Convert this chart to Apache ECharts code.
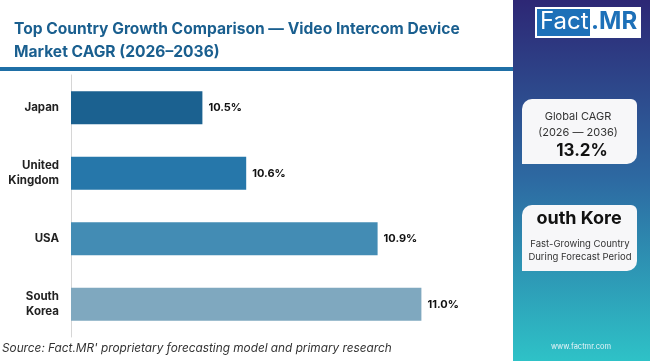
<!DOCTYPE html>
<html><head><meta charset="utf-8">
<script src="https://cdn.jsdelivr.net/npm/echarts@6/dist/echarts.min.js"></script>
<style>html,body{margin:0;padding:0;background:#fff}#c{width:650px;height:361px}</style>
</head><body><div id="c"></div>
<script>
const categories = ['Japan', 'United\nKingdom', 'USA', 'South\nKorea'];
const cagrValues = [10.5, 10.6, 10.9, 11.0];
const barColors = ['#1b6190', '#2677aa', '#438cb4', '#7fa8bf'];
const titleLines = 'Top Country Growth Comparison — Video Intercom Device\nMarket CAGR (2026–2036)';
const sourceText = "Source: Fact.MR' proprietary forecasting model and primary research";
const globalCagr = '13.2%';
const fastestCountry = 'outh Kore';

const chart = echarts.init(document.getElementById('c'));
const F = 'Inter, "Open Sans", sans-serif';
chart.setOption({
  animation: false,
  title: {
    text: titleLines, left: 9, top: 13,
    textStyle: { fontFamily: F, fontSize: 15.6, fontWeight: 700, color: '#1a5f8f', lineHeight: 23 }
  },
  grid: { left: 71, right: 141, top: 75, bottom: 24 },
  xAxis: { type: 'value', min: 10.2, max: 11.2, show: false },
  yAxis: {
    type: 'category', data: categories, inverse: true,
    axisLine: { lineStyle: { color: '#d6d6d6' } },
    axisTick: { length: 4, lineStyle: { color: '#d6d6d6' } },
    axisLabel: { margin: 12, fontFamily: F, fontSize: 11.5, fontWeight: 700, color: '#222', lineHeight: 15 }
  },
  series: [{
    type: 'bar', barWidth: 33,
    data: cagrValues.map((v, i) => ({ value: v, itemStyle: { color: barColors[i] } })),
    label: { show: true, position: 'right', distance: 6, fontFamily: F, fontSize: 11, fontWeight: 700, color: '#111',
      formatter: p => p.value.toFixed(1) + '%' }
  }],
  graphic: [
    { type: 'rect', left: 0, top: 67, shape: { width: 513, height: 4 }, style: { fill: '#1f6fa6' } },
    { type: 'text', left: 2, top: 342, style: { text: sourceText, font: 'italic 11.8px ' + F, fill: '#333' } },
    { type: 'rect', left: 513, top: 0, shape: { width: 137, height: 361 },
      style: { fill: new echarts.graphic.LinearGradient(0, 0, 0, 1, [
        { offset: 0, color: '#2d2775' }, { offset: 0.5, color: '#2d6aa2' }, { offset: 1, color: '#2ec2c7' }]) } },
    { type: 'rect', left: 535, top: 7, shape: { width: 106, height: 31 }, style: { fill: '#fff' } },
    { type: 'rect', left: 537, top: 9, shape: { width: 53, height: 27 }, style: { fill: '#1d70b8' } },
    { type: 'text', left: 540, top: 10, style: { text: 'Fact', font: '400 24px ' + F, fill: '#fff' } },
    { type: 'text', left: 591, top: 10, style: { text: '.MR', font: '700 24px ' + F, fill: '#1d70b8' } },
    { type: 'rect', left: 522, top: 99, shape: { width: 115, height: 65, r: [10, 6, 10, 0] }, style: { fill: '#f7f7f9' } },
    { type: 'text', x: 578, y: 117, style: { text: 'Global CAGR', font: '400 11px ' + F, fill: '#333', align: 'center', verticalAlign: 'middle' } },
    { type: 'text', x: 578, y: 133, style: { text: '(2026 — 2036)', font: '400 11px ' + F, fill: '#333', align: 'center', verticalAlign: 'middle' } },
    { type: 'text', x: 582, y: 151, style: { text: globalCagr, font: '700 17px ' + F, fill: '#111', align: 'center', verticalAlign: 'middle' } },
    { type: 'rect', left: 522, top: 205, shape: { width: 115, height: 66, r: [10, 6, 10, 0] }, style: { fill: '#f7f7f9' } },
    { type: 'text', x: 579, y: 219, style: { text: fastestCountry, font: '700 18px ' + F, fill: '#111', align: 'center', verticalAlign: 'middle' } },
    { type: 'text', x: 580, y: 244, style: { text: 'Fast-Growing Country', font: '400 9.5px ' + F, fill: '#333', align: 'center', verticalAlign: 'middle' } },
    { type: 'text', x: 580, y: 257, style: { text: 'During Forecast Period', font: '400 9.5px ' + F, fill: '#333', align: 'center', verticalAlign: 'middle' } },
    { type: 'text', x: 581, y: 347, style: { text: 'www.factmr.com', font: '400 7.5px ' + F, fill: '#e8f4f8', align: 'center', verticalAlign: 'middle' } }
  ]
});
</script></body></html>
